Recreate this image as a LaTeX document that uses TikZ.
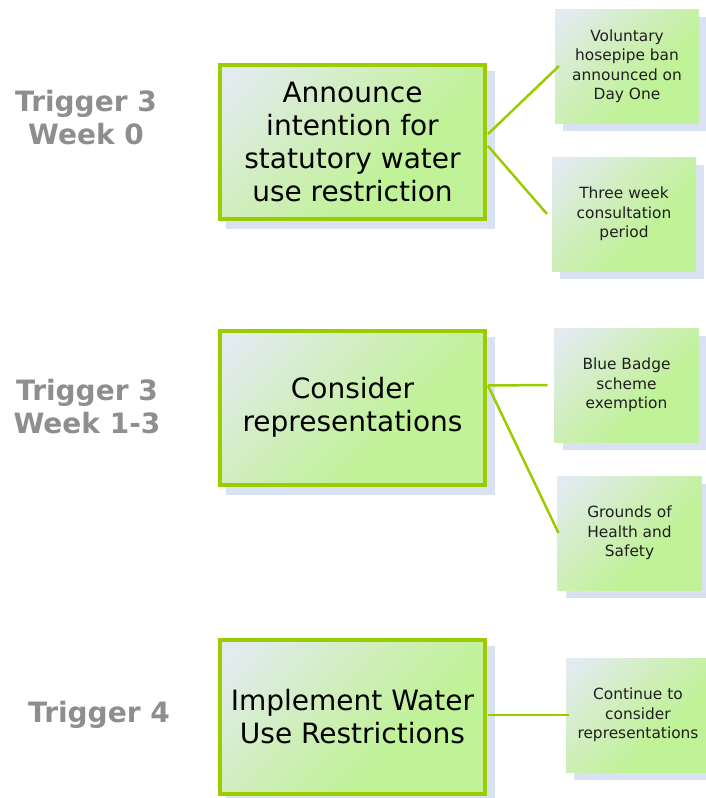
\documentclass[tikz,border=0pt]{standalone}
\usepackage{fontspec}
\setmainfont{DejaVu Sans}
\definecolor{bordergreen}{RGB}{155,204,0}
\definecolor{shadowcol}{RGB}{217,226,243}
\definecolor{gradtop}{RGB}{227,235,241}
\definecolor{gradmid}{RGB}{208,238,188}
\definecolor{gradbot}{RGB}{192,242,152}
\definecolor{triggergray}{RGB}{142,142,142}
\pgfdeclareverticalshading{boxgrad}{100bp}{color(0bp)=(gradbot); color(38bp)=(gradbot); color(58bp)=(gradmid); color(82bp)=(gradtop); color(100bp)=(gradtop)}
\tikzset{
  gradfill/.style={shade, shading=boxgrad, shading angle=45},
  mainbox/.style={draw=bordergreen, line width=4pt, gradfill,
    minimum width=265pt, minimum height=154pt, inner sep=0pt, outer sep=0pt,
    align=center, font=\fontsize{28}{33}\selectfont, text=black,
    preaction={fill=shadowcol, draw=shadowcol, line width=4pt, transform canvas={shift={(8pt,-8pt)}}}},
  subbox/.style={gradfill,
    minimum width=144pt, minimum height=114pt, inner sep=0pt, outer sep=0pt,
    align=center, font=\fontsize{15.4}{19.5}\selectfont, text={black!88},
    preaction={fill=shadowcol, transform canvas={shift={(8pt,-8pt)}}}},
  trig/.style={align=center, font=\bfseries\fontsize{28}{33}\selectfont, text=triggergray},
  link/.style={draw=bordergreen, line width=2.5pt}
}
\begin{document}
\begin{tikzpicture}[x=1pt,y=-1pt]
\useasboundingbox (0,0) rectangle (705,798);
% trigger labels
\node[trig] (t1) at (86,118) {Trigger 3\\Week 0};
\node[trig] (t2) at (87,407) {Trigger 3\\Week 1-3};
\node[trig] (t3) at (99,715) {Trigger 4};
% main boxes
\node[mainbox] (b1) at (352.5,142) {Announce\\intention for\\statutory water\\use restriction};
\node[mainbox] (b2) at (352.5,407.5) {Consider\\representations};
\node[mainbox] (b3) at (352.5,716.5) {Implement Water\\Use Restrictions};
% sub boxes
\node[subbox] (s1) at (627,66) {Voluntary\\hosepipe ban\\announced on\\Day One};
\node[subbox] (s2) at (624,214) {Three week\\consultation\\period};
\node[subbox] (s3) at (626.5,385) {Blue Badge\\scheme\\exemption};
\node[subbox] (s4) at (629.5,533) {Grounds of\\Health and\\Safety};
\node[subbox] (s5) at (638,715) {Continue to\\consider\\representations};
% connectors
\coordinate (b1a) at ([xshift=3pt,yshift=8pt]b1.east);
\coordinate (b1b) at ([xshift=3pt,yshift=-4pt]b1.east);
\coordinate (b2a) at ([xshift=3pt,yshift=22pt]b2.east);
\coordinate (b3a) at ([xshift=3pt,yshift=1.5pt]b3.east);
\draw[link] (b1a) -- ([xshift=4pt]s1.west);
\draw[link] (b1b) -- ([xshift=-5pt]s2.west);
\draw[link] (b2a) -- ([xshift=-7pt]s3.west);
\draw[link] (b2a) -- ([xshift=1pt]s4.west);
\draw[link] (b3a) -- ([xshift=3pt]s5.west);
\end{tikzpicture}
\end{document}
